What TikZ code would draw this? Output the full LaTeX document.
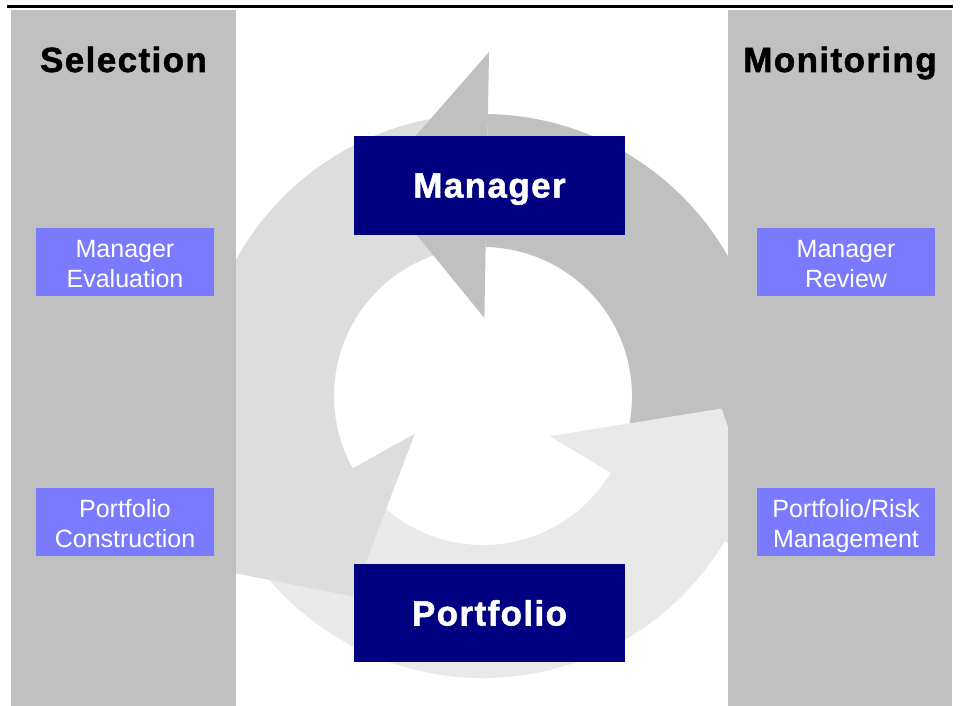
\documentclass[tikz,border=0pt]{standalone}
\usepackage{fontspec}
\setmainfont{Liberation Sans}
\newfontfamily\heavyfont{Liberation Sans}[UprightFont=* Bold, LetterSpace=4, FakeBold=1.5]
\usetikzlibrary{positioning}

\definecolor{panelgray}{RGB}{192,192,192}
\definecolor{arrowdark}{RGB}{192,192,192}
\definecolor{arrowmid}{RGB}{221,221,221}
\definecolor{arrowlight}{RGB}{233,233,233}
\definecolor{boxblue}{RGB}{122,122,255}
\definecolor{navyblue}{RGB}{0,0,128}

\begin{document}
\begin{tikzpicture}[x=1pt, y=-1pt,
  hdr/.style={anchor=base, font=\heavyfont\fontsize{35}{42}\selectfont},
  keybox/.style={fill=navyblue, text=white, minimum width=271pt, minimum height=98pt, inner sep=0pt, text depth=0pt, font=\heavyfont\fontsize{35}{42}\selectfont},
  stepbox/.style={fill=boxblue, text=white, align=center, minimum width=178pt, minimum height=68pt, inner sep=0pt, text height=54pt, text depth=3pt, font=\fontsize{25}{30}\selectfont}]
\useasboundingbox (0,0) rectangle (961,706);
\fill[white] (0,0) rectangle (961,706);

\begin{scope}[shift={(483,396)}, yscale=-1]
\fill[arrowdark] (-31:149) arc[start angle=-31, end angle=89, radius=149] -- (89:282) arc[start angle=89, end angle=-31, radius=282] -- cycle;
\fill[arrowmid] (89:149) arc[start angle=89, end angle=209, radius=149] -- (209:282) arc[start angle=209, end angle=89, radius=282] -- cycle;
\fill[arrowlight] (209:149) arc[start angle=209, end angle=329, radius=149] -- (329:282) arc[start angle=329, end angle=209, radius=282] -- cycle;
\fill[arrowdark] (89:78) -- (89:344) -- (117:239) -- cycle;
\fill[arrowmid] (209:78) -- (209:344) -- (237:239) -- cycle;
\fill[arrowlight] (329:78) -- (329:344) -- (357:239) -- cycle;
\end{scope}

\fill[panelgray] (11,10) rectangle (236,706);
\fill[panelgray] (728,10) rectangle (952,706);
\draw[line width=2.5pt] (7,6.7) -- (953,6.7);

\node[hdr] (sel) at (123.5,72) {Selection};
\node[hdr] (mon) at (840,72) {Monitoring};

\node[keybox] (mgr) at (489.5,185.5) {Manager};
\node[keybox] (port) at (489.5,612.8) {Portfolio};

\node[stepbox] (me) at (125,261.5) {Manager\\Evaluation};
\node[stepbox] (pc) at (125,521.5) {Portfolio\\Construction};
\node[stepbox] (mr) at (846,261.5) {Manager\\Review};
\node[stepbox] (prm) at (846,521.5) {Portfolio/Risk\\Management};
\end{tikzpicture}
\end{document}
